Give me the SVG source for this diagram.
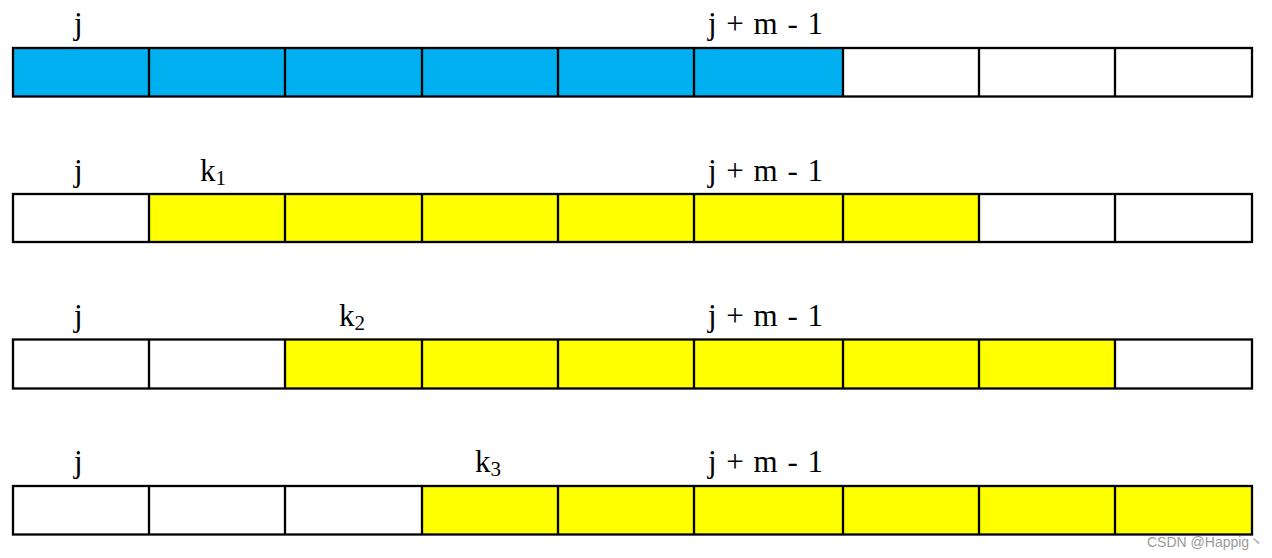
<svg xmlns="http://www.w3.org/2000/svg" width="1272" height="558" viewBox="0 0 1272 558">
<style>
.lbl{font-family:"Liberation Serif","Times New Roman",serif;font-size:31px;fill:#000}
.sp{word-spacing:2px}
.sub{font-size:21px}
.ln{stroke:#000;stroke-width:2.3;fill:none}
.blue{fill:#00B0F0}
.yel{fill:#FFFF00}
.wm{font-family:"Liberation Sans","Noto Sans CJK SC",sans-serif;font-size:14px;fill:#9a9a9a}
</style>
<rect width="1272" height="558" fill="#fff"/>
<g id="row1">
<rect class="blue" x="13" y="47" width="830" height="49"/>
<rect class="ln" x="13" y="48" width="1239" height="48.5"/>
<path class="ln" d="M149 48V96.5M285 48V96.5M422 48V96.5M558 48V96.5M694 48V96.5M843 48V96.5M979 48V96.5M1115 48V96.5"/>
<text class="lbl" x="74" y="34">j</text>
<text class="lbl sp" x="708" y="34">j + m - 1</text>
</g>
<g id="row2">
<rect class="yel" x="149" y="193" width="830" height="49"/>
<rect class="ln" x="13" y="194" width="1239" height="48"/>
<path class="ln" d="M149 194V242M285 194V242M422 194V242M558 194V242M694 194V242M843 194V242M979 194V242M1115 194V242"/>
<text class="lbl" x="74" y="181">j</text>
<text class="lbl" x="200" y="181">k<tspan class="sub" dy="4">1</tspan></text>
<text class="lbl sp" x="708" y="181">j + m - 1</text>
</g>
<g id="row3">
<rect class="yel" x="285" y="338.5" width="830" height="49.5"/>
<rect class="ln" x="13" y="339.5" width="1239" height="49"/>
<path class="ln" d="M149 339.5V388.5M285 339.5V388.5M422 339.5V388.5M558 339.5V388.5M694 339.5V388.5M843 339.5V388.5M979 339.5V388.5M1115 339.5V388.5"/>
<text class="lbl" x="74" y="326">j</text>
<text class="lbl" x="339" y="326">k<tspan class="sub" dy="4">2</tspan></text>
<text class="lbl sp" x="708" y="326">j + m - 1</text>
</g>
<g id="row4">
<rect class="yel" x="422" y="485" width="830" height="49.5"/>
<rect class="ln" x="13" y="486" width="1239" height="48.5"/>
<path class="ln" d="M149 486V534.5M285 486V534.5M422 486V534.5M558 486V534.5M694 486V534.5M843 486V534.5M979 486V534.5M1115 486V534.5"/>
<text class="lbl" x="74" y="472">j</text>
<text class="lbl" x="475" y="472">k<tspan class="sub" dy="4">3</tspan></text>
<text class="lbl sp" x="708" y="472">j + m - 1</text>
</g>
<g id="connectors"></g>
<text class="wm" x="1147" y="547">CSDN @Happig丶</text>
</svg>
